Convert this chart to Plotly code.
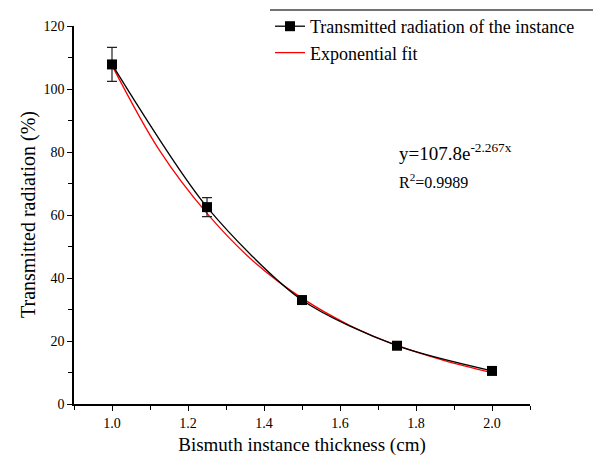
import plotly.graph_objects as go

# Measured data
thickness = [1.0, 1.25, 1.5, 1.75, 2.0]
transmitted = [107.8, 62.5, 33.0, 18.5, 10.5]
err = [5.4, 3.0, 1.0, 0.6, 0.6]

# Exponential fit curve
fit_x = [1.0, 1.125, 1.25, 1.375, 1.5, 1.625, 1.75, 1.875, 2.0]
fit_y = [107.5, 80.5, 60.5, 45.0, 33.6, 25.0, 18.6, 13.8, 10.0]

serif = "Liberation Serif"
W, H = 601, 463
OFF = 8  # page body margin
L, R, T, B = 74 - OFF, 601 - 530 + OFF, 26 - OFF, 463 - 404 + OFF
PW, PH = W - L - R, H - T - B

fig = go.Figure()
fig.add_trace(go.Scatter(
    x=fit_x, y=fit_y, mode="lines", name="Exponential fit",
    line=dict(color="red", width=1.3, shape="spline", smoothing=1.0),
))
fig.add_trace(go.Scatter(
    x=thickness, y=transmitted, mode="lines+markers",
    name="Transmitted radiation of the instance",
    line=dict(color="black", width=1.3, shape="spline", smoothing=0.8),
    marker=dict(symbol="square", size=10, color="black"),
    error_y=dict(type="data", array=err, visible=True, color="#222", thickness=1.2, width=5),
))

fig.update_layout(
    width=W, height=H,
    margin=dict(l=L, r=R, t=T, b=B, autoexpand=False),
    paper_bgcolor="white", plot_bgcolor="white",
    font=dict(family=serif, color="black", size=14),
    showlegend=True,
    legend=dict(
        xref="container", yref="container",
        x=(270 - OFF) / W, y=1 - (7 - OFF) / H, xanchor="left", yanchor="top",
        font=dict(family=serif, size=18, color="black"),
        bgcolor="rgba(0,0,0,0)", borderwidth=0,
        traceorder="reversed", tracegroupgap=0,
    ),
    xaxis=dict(
        range=[0.9, 2.1], tickvals=[1.0, 1.2, 1.4, 1.6, 1.8, 2.0],
        ticktext=["1.0", "1.2", "1.4", "1.6", "1.8", "2.0"],
        showgrid=False, zeroline=False, showline=True, linecolor="black", linewidth=1.5,
        ticks="outside", ticklen=5, tickwidth=1.2, tickcolor="black",
        minor=dict(tickvals=[0.9, 1.1, 1.3, 1.5, 1.7, 1.9, 2.1], ticks="outside", ticklen=4, tickwidth=1.2, tickcolor="black"),
        tickfont=dict(family=serif, size=14),
        title=dict(text="Bismuth instance thickness (cm)", font=dict(family=serif, size=19), standoff=8),
    ),
    yaxis=dict(
        range=[0, 120], tickvals=[0, 20, 40, 60, 80, 100, 120],
        showgrid=False, zeroline=False, showline=True, linecolor="black", linewidth=1.5,
        ticks="outside", ticklen=5, tickwidth=1.2, tickcolor="black",
        minor=dict(tickvals=[10, 30, 50, 70, 90, 110], ticks="outside", ticklen=4, tickwidth=1.2, tickcolor="black"),
        tickfont=dict(family=serif, size=14),
    ),
    shapes=[dict(type="line", xref="paper", yref="paper", x0=(270 - 74) / PW, x1=(601 - 74) / PW,
                 y0=1 + 16 / PH, y1=1 + 16 / PH, line=dict(color="#444", width=1.5))],
    annotations=[
        dict(xref="paper", yref="paper", x=(28 - 74) / PW, y=0.5, xanchor="center", yanchor="middle",
             text="Transmitted radiation (%)", textangle=-90, showarrow=False,
             font=dict(family=serif, size=20)),
        dict(xref="paper", yref="paper", x=(397 - 74) / PW, y=(404 - 152) / PH, xanchor="left", yanchor="middle",
             text="y=107.8e<sup>-2.267x</sup>", showarrow=False, font=dict(family=serif, size=19)),
        dict(xref="paper", yref="paper", x=(397 - 74) / PW, y=(404 - 181) / PH, xanchor="left", yanchor="middle",
             text="R<sup>2</sup>=0.9989", showarrow=False, font=dict(family=serif, size=16)),
    ],
)

fig.write_html("out.html")
